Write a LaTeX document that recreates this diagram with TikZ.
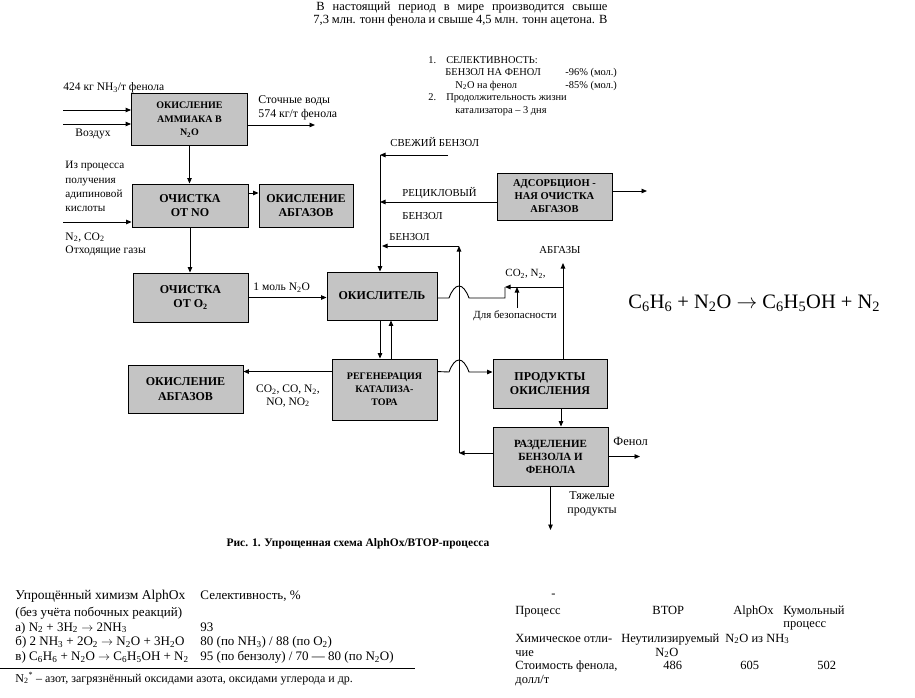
\documentclass[tikz,border=0pt]{standalone}
\usepackage{fontspec}
\setmainfont{Liberation Serif}
\usetikzlibrary{arrows.meta,calc}
\definecolor{boxgray}{gray}{0.77}
\newcommand{\dn}[1]{\textsubscript{#1}}

\begin{document}
\begin{tikzpicture}[
x=1pt, y=-1pt,
line width=0.9pt,
blk/.style={
    draw,
    fill=boxgray,
    align=center,
    inner sep=0pt,
    font=\bfseries\fontsize{12}{13.5}\selectfont
    },
txt/.style={
    inner sep=0pt,
    font=\fontsize{11.5}{13}\selectfont
    },
smlbl/.style={
    inner sep=0pt,
    font=\fontsize{10.7}{12}\selectfont
    },
tbl/.style={
    inner sep=0pt,
    anchor=base west,
    font=\fontsize{12.5}{13.5}\selectfont
    },
ar/.style={-{Triangle[length=5.5pt,width=4.5pt]}},
]
\useasboundingbox (0,0) rectangle (915,698);

% text above the scheme
\node[tbl] (par1) at (316,10.5)
    {\makebox[291pt][s]{В настоящий период в мире производится свыше}};
\node[tbl] (par2) at (313,24)
    {\makebox[294pt][s]{7,3 млн. тонн фенола и свыше 4,5 млн. тонн ацетона. В}};

% notes
\node[anchor=north west, inner sep=0pt, font=\fontsize{10.4}{12.5}\selectfont, align=left] (notes) at (428,56)
    {1.\hspace{10pt}СЕЛЕКТИВНОСТЬ:\\
     \hspace{17pt}\makebox[120pt][l]{БЕНЗОЛ НА ФЕНОЛ}-96\% (мол.)\\
     \hspace{27pt}\makebox[110pt][l]{N\dn{2}O  на фенол}-85\% (мол.)\\
     2.\hspace{10pt}Продолжительность жизни\\
     \hspace{27pt}катализатора -- 3 дня};

% boxes
\node[blk, minimum width=116pt, minimum height=52pt, font=\bfseries\fontsize{10}{13.5}\selectfont]
    (amm) at (189.5,119.5) {ОКИСЛЕНИЕ\\АММИАКА В\\N\dn{2}O};
\node[blk, minimum width=116pt, minimum height=43pt] (no) at (190,205.5) {ОЧИСТКА\\ОТ NO};
\node[blk, minimum width=94pt, minimum height=43pt] (abg1) at (306,205.5) {ОКИСЛЕНИЕ\\АБГАЗОВ};
\node[blk, minimum width=115pt, minimum height=49pt] (o2) at (190.5,297.5) {ОЧИСТКА\\ОТ O\dn{2}};
\node[blk, minimum width=110pt, minimum height=48pt] (ox) at (382,296) {ОКИСЛИТЕЛЬ};
\node[blk, minimum width=115pt, minimum height=47pt, font=\bfseries\fontsize{10.5}{13}\selectfont]
    (ads) at (554.5,196.5) {АДСОРБЦИОН -\\НАЯ ОЧИСТКА\\АБГАЗОВ};
\node[blk, minimum width=105pt, minimum height=61pt, font=\bfseries\fontsize{10}{13}\selectfont]
    (reg) at (384.5,389.5) {РЕГЕНЕРАЦИЯ\\КАТАЛИЗА-\\ТОРА};
\node[blk, minimum width=115pt, minimum height=48pt, font=\bfseries\fontsize{12}{14.5}\selectfont]
    (abg2) at (185.5,389) {ОКИСЛЕНИЕ\\АБГАЗОВ};
\node[blk, minimum width=114pt, minimum height=49pt, font=\bfseries\fontsize{12}{14.5}\selectfont]
    (prod) at (550,383.5) {ПРОДУКТЫ\\ОКИСЛЕНИЯ};
\node[blk, minimum width=115pt, minimum height=59pt, font=\bfseries\fontsize{11}{13}\selectfont]
    (sep) at (550.5,456.5) {РАЗДЕЛЕНИЕ\\БЕНЗОЛА И\\ФЕНОЛА};

% ammonia oxidation
\coordinate (nh3) at (63,110);
\coordinate (air) at (63,124);
\coordinate (wout) at (315,125);
\draw[ar] (nh3) -- (nh3 -| amm.west);
\draw[ar] (air) -- (air -| amm.west);
\draw[ar] (wout -| amm.east) -- (wout);
\node[txt, anchor=west] (lnh3) at (63,88) {424 кг NH\dn{3}/т фенола};
\node[txt, anchor=west] (lair) at (75,134) {Воздух};
\node[txt, anchor=west, align=left, font=\fontsize{11.8}{14}\selectfont] (lwat) at (258,107.5)
    {Сточные воды\\574 кг/т фенола};
\draw[ar] (amm.south) -- (amm.south |- no.north);

% NO purification
\coordinate (adip) at (63,222);
\coordinate (noab) at (248,193);
\draw[ar] (adip) -- (adip -| no.west);
\draw[ar] (noab) -- (noab -| abg1.west);
\node[txt, anchor=north west, align=left, font=\fontsize{11.2}{14.3}\selectfont] (ladip) at (65,161)
    {Из процесса\\получения\\адипиновой\\кислоты};
\node[txt, anchor=north west, align=left, font=\fontsize{11.5}{13}\selectfont] (loff) at (65,232)
    {N\dn{2}, CO\dn{2}\\Отходящие газы};
\draw[ar] (no.south) -- (no.south |- o2.north);

% to the oxidiser
\draw[ar] (o2.east) -- (o2.east -| ox.west);
\node[txt, anchor=west] (lmol) at (253,288) {1 моль N\dn{2}O};

% benzene feeds
\coordinate (fbz) at (448,155);
\coordinate (bzcol) at (380,155);
\draw[ar] (fbz) -- (bzcol);
\draw[ar] (bzcol) -- (bzcol |- ox.north);
\node[smlbl, anchor=west] (lfbz) at (390,142) {СВЕЖИЙ БЕНЗОЛ};
\coordinate (rcy) at ($(ads.west)+(0,5.5)$);
\draw[ar] (rcy) -- (rcy -| bzcol);
\node[smlbl, anchor=west] (lrcy) at (402,193) {РЕЦИКЛОВЫЙ};
\node[smlbl, anchor=west] (lrcy2) at (402,216) {БЕНЗОЛ};
\coordinate (adsend) at (647,191);
\draw[ar] (adsend -| ads.east) -- (adsend);

% benzene return from separation
\coordinate (bzret) at (459,453);
\coordinate (bztop) at (459,246);
\draw[ar] (bzret -| sep.west) -- (bzret);
\draw[ar] (bzret) -- (bztop);
\draw[ar] (bztop) -- ($(bztop -| bzcol)+(2,0)$);
\node[smlbl, anchor=west] (lbz) at (389,237) {БЕНЗОЛ};

% off-gas of the oxidiser
\coordinate (hopA) at (449,298);
\coordinate (hopB) at (469,298);
\coordinate (cstep) at (505,287);
\coordinate (abgtop) at (563,263);
\draw (ox.east |- hopA) -- (hopA) .. controls +(6,-16) and +(-6,-16) .. (hopB)
    -- (hopB -| cstep) -- (cstep);
\draw[ar] (abgtop |- prod.north) -- (abgtop);
\draw[ar] (abgtop |- cstep) -- (cstep);
\coordinate (safe) at (517,308);
\draw[ar] (safe) -- (safe |- cstep);
\node[txt, anchor=west, font=\fontsize{11}{12}\selectfont] (lco) at (505,274) {CO\dn{2}, N\dn{2},};
\node[smlbl, anchor=west] (labg) at (539,250) {АБГАЗЫ};
\node[txt, anchor=west, font=\fontsize{10.9}{12}\selectfont] (lsafe) at (473,316) {Для безопасности};

% catalyst regeneration
\coordinate (regup) at ($(reg.north)+(6.5,0)$);
\draw[ar] (bzcol |- ox.south) -- (bzcol |- reg.north);
\draw[ar] (regup) -- (regup |- ox.south);
\coordinate (regout) at ($(reg.north west)+(0,13)$);
\draw[ar] (regout) -- (regout -| abg2.east);
\node[txt, align=center, font=\fontsize{11.5}{12.5}\selectfont] (lgas) at (288,396)
    {CO\dn{2}, CO, N\dn{2},\\NO, NO\dn{2}};
\coordinate (regr) at ($(reg.north east)+(0,13)$);
\coordinate (hopC) at (449,372);
\coordinate (hopD) at (469,372);
\draw[ar] (regr) -- (hopC) .. controls +(6,-16) and +(-6,-16) .. (hopD) -- (hopD -| prod.west);

% products and separation
\coordinate (psx) at ($(prod.south)+(11,0)$);
\draw[ar] (psx) -- (psx |- sep.north);
\coordinate (phen) at (640,455);
\draw[ar] (sep.east) -- (sep.east -| phen);
\node[txt, anchor=west, font=\fontsize{12.5}{14}\selectfont] (lphen) at (613,441) {Фенол};
\coordinate (heavy) at (550,530);
\draw[ar] (sep.south) -- (sep.south |- heavy);
\node[txt, align=center, font=\fontsize{12}{14}\selectfont] (lheavy) at (592,504) {Тяжелые\\продукты};

% reaction and caption
\node[inner sep=0pt, anchor=west, font=\fontsize{20.5}{22}\selectfont] (eq) at (628,303)
    {C\dn{6}H\dn{6} + N\dn{2}O $\rightarrow$ C\dn{6}H\dn{5}OH + N\dn{2}};
\node[inner sep=0pt, font=\bfseries\fontsize{11.5}{13}\selectfont] (fig) at (358,544)
    {Рис. 1. Упрощенная схема AlphOx/BTOP-процесса};

% chemistry table
\begin{scope}[every node/.style={tbl, font=\fontsize{13}{14}\selectfont}]
    \node (ch1) at (15,599.5) {\makebox[170pt][s]{\fontsize{13.5}{14}\selectfont Упрощённый химизм AlphOx}};
    \node (sel1) at (200,599.5) {Селективность, \%};
    \node (ch2) at (15,616) {(без учёта побочных реакций)};
    \node (ch3) at (15,631) {а) N\dn{2} + 3H\dn{2} $\rightarrow$ 2NH\dn{3}};
    \node (sel3) at (200,631) {93};
    \node (ch4) at (15,645.5) {б) 2 NH\dn{3} + 2O\dn{2} $\rightarrow$ N\dn{2}O + 3H\dn{2}O};
    \node (sel4) at (200,645.5) {80 (по NH\dn{3}) / 88 (по O\dn{2})};
    \node (ch5) at (15,660.5) {в) C\dn{6}H\dn{6} + N\dn{2}O $\rightarrow$ C\dn{6}H\dn{5}OH + N\dn{2}};
    \node (sel5) at (200,660.5) {95 (по бензолу) / 70 --- 80 (по N\dn{2}O)};
\end{scope}
\coordinate (rulel) at (0,668);
\coordinate (ruler) at (415,668);
\draw[line width=1pt] (rulel) -- (ruler);
\node[tbl, font=\fontsize{12}{14}\selectfont] (foot) at (15,682)
    {N\dn{2}\textsuperscript{*} -- азот, загрязнённый оксидами азота, оксидами углерода и др.};

% cost table
\begin{scope}[every node/.style={tbl}]
    \node (dash) at (551,597) {-};
    \node (h1) at (515,614) {Процесс};
    \node (h2) at (652,614) {BTOP};
    \node (h3) at (733,614) {AlphOx};
    \node (h4) at (783,614) {Кумольный};
    \node (h4b) at (783,627.5) {процесс};
    \node (r1) at (515,642) {Химическое отли-};
    \node (r1b) at (515,656) {чие};
    \node (c1) at (621,642) {Неутилизируемый};
    \node (c1b) at (655,656) {N\dn{2}O};
    \node (c2) at (725,642) {N\dn{2}O из NH\dn{3}};
    \node (r2) at (515,669) {Стоимость фенола,};
    \node (r2b) at (515,683) {долл/т};
    \node (v1) at (663,669) {486};
    \node (v2) at (740,669) {605};
    \node (v3) at (817,669) {502};
\end{scope}
\end{tikzpicture}
\end{document}
